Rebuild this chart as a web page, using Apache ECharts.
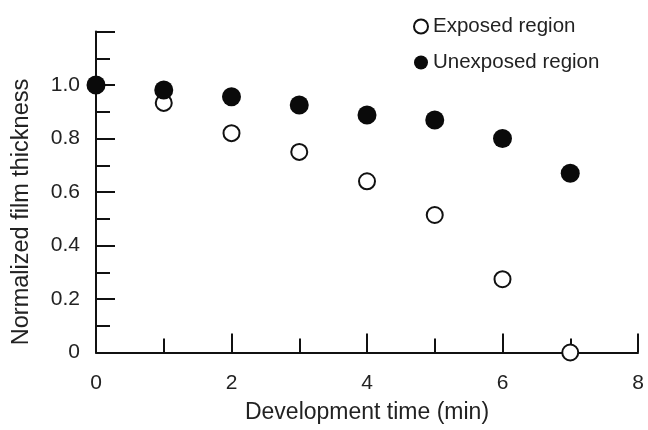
<!DOCTYPE html>
<html>
<head>
<meta charset="utf-8">
<title>Film thickness</title>
<script src="https://cdn.jsdelivr.net/npm/echarts@6/dist/echarts.min.js"></script>
<style>
  html, body { margin: 0; padding: 0; background: #fff; }
  #chart-box { width: 648px; height: 430px; }
</style>
</head>
<body>
<div id="chart-box"></div>
<script>
// 数据
var times = [0, 1, 2, 3, 4, 5, 6, 7];
var exposed = [1.0, 0.933, 0.82, 0.75, 0.64, 0.514, 0.274, 0.0];
var unexposed = [1.0, 0.981, 0.956, 0.925, 0.888, 0.869, 0.80, 0.67];
var xTicks = [0, 2, 4, 6, 8];
var yTicks = ['0', '0.2', '0.4', '0.6', '0.8', '1.0', ''];

function pairs(xs, ys) {
    return xs.map(function (x, i) { return [x, ys[i]]; });
}

var _chart = echarts.init(document.getElementById('chart-box'));
var fontName = 'Liberation Sans, Arial, sans-serif';
var textColor = '#222';

var _options = {
    backgroundColor: '#fff',
    animation: false,
    grid: { left: 96, right: 10, top: 31.5, bottom: 77.5 },
    legend: {
        orient: 'vertical',
        left: 408,
        top: 11,
        itemWidth: 14,
        itemHeight: 14,
        itemGap: 15,
        textStyle: { fontFamily: fontName, fontSize: 20.5, color: textColor },
        data: ['Exposed region', 'Unexposed region']
    },
    xAxis: {
        type: 'value',
        min: 0, max: 8, interval: 2,
        name: 'Development time (min)',
        nameLocation: 'middle',
        nameGap: 49,
        nameTextStyle: { fontFamily: fontName, fontSize: 23, color: textColor },
        axisLine: { lineStyle: { color: '#111', width: 2 } },
        axisTick: { inside: true, length: 19, lineStyle: { color: '#111', width: 2 } },
        minorTick: { show: true, splitNumber: 2, length: 14, lineStyle: { color: '#111', width: 2 } },
        axisLabel: {
            margin: 20, fontFamily: fontName, fontSize: 21, color: textColor,
            formatter: function (v) { return xTicks.indexOf(v) >= 0 ? String(v) : ''; }
        },
        splitLine: { show: false }
    },
    yAxis: {
        type: 'value',
        min: 0, max: 1.2, interval: 0.2,
        axisLine: { show: true, lineStyle: { color: '#111', width: 2 } },
        axisTick: { show: true, inside: true, length: 19, lineStyle: { color: '#111', width: 2 } },
        minorTick: { show: true, splitNumber: 2, length: 14, lineStyle: { color: '#111', width: 2 } },
        axisLabel: {
            margin: 16, fontFamily: fontName, fontSize: 21, color: textColor,
            formatter: function (v) { return yTicks[Math.round(v / 0.2)]; }
        },
        splitLine: { show: false }
    },
    graphic: [{
        type: 'text',
        x: 22, y: 212,
        rotation: Math.PI / 2,
        style: {
            text: 'Normalized film thickness',
            fontFamily: fontName, fontSize: 23.5, fill: textColor,
            align: 'center', verticalAlign: 'middle'
        }
    }],
    series: [{
        name: 'Exposed region',
        type: 'scatter',
        clip: false,
        symbol: 'circle',
        symbolSize: 16,
        itemStyle: { color: '#fff', borderColor: '#111', borderWidth: 2, opacity: 1 },
        data: pairs(times, exposed)
    }, {
        name: 'Unexposed region',
        type: 'scatter',
        clip: false,
        symbol: 'circle',
        symbolSize: 19,
        itemStyle: { color: '#0a0a0a', opacity: 1 },
        data: pairs(times, unexposed)
    }]
};
_chart.setOption(_options);
</script>
</body>
</html>
